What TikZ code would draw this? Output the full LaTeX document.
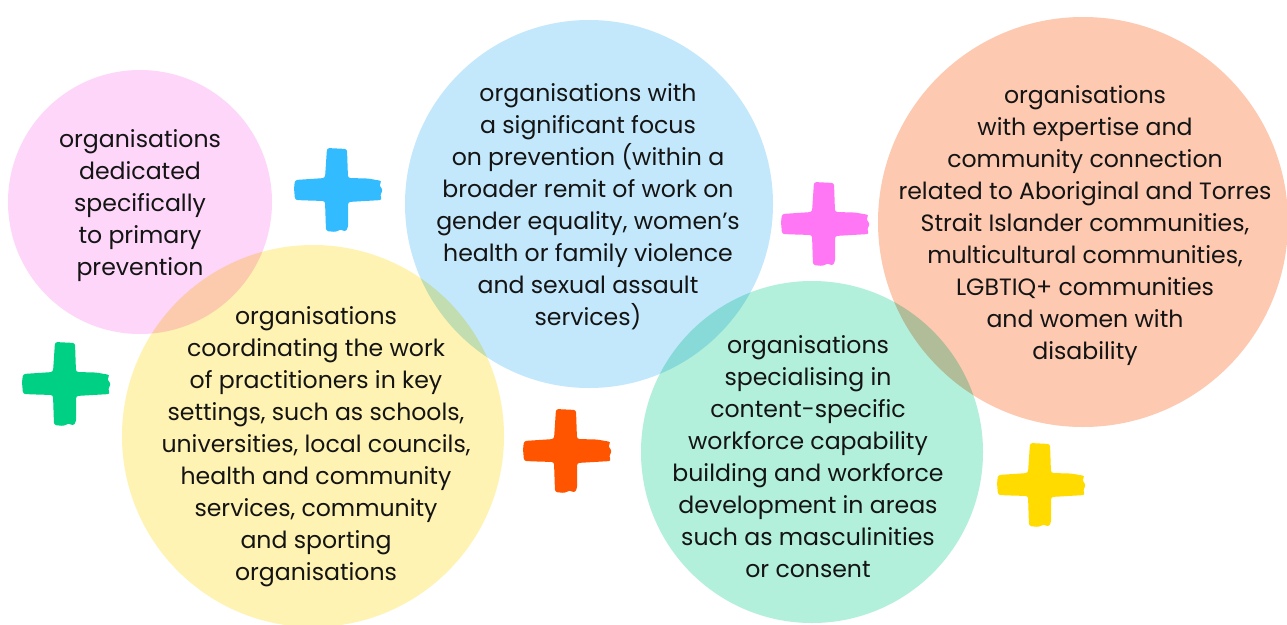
\documentclass[tikz,border=0pt]{standalone}
\usepackage{fontspec}
\setmainfont{Poppins}
\definecolor{cpink}{HTML}{FDD6F9}
\definecolor{cyellow}{HTML}{FEF3B2}
\definecolor{cblue}{HTML}{C3E8FC}
\definecolor{cgreen}{HTML}{B2F0DB}
\definecolor{cpeach}{HTML}{FDC9B1}
\definecolor{pblue}{HTML}{33BBFF}
\definecolor{pgreen}{HTML}{00D084}
\definecolor{porange}{HTML}{FF5500}
\definecolor{pmagenta}{HTML}{FF77F5}
\definecolor{pyellow}{HTML}{FFDB00}
\definecolor{txt}{HTML}{141414}
\tikzset{
  bubble/.style={circle, inner sep=0pt, draw=none, fill=#1, blend mode=multiply},
  label/.style={align=center, text=txt, inner sep=0pt, font=\fontsize{23.6}{32}\selectfont},
  pics/plusmark/.style={code={
    \fill[#1, rounded corners=2.5pt]
      (-11,-42) -- (9,-41) -- (10,-12) -- (30,-11.5) -- (44,-9) -- (41,-5) -- (45,0) -- (42,5) -- (44,10)
      -- (10,12) -- (10,38) -- (7,42) -- (3,39) -- (-2,42) -- (-12,41) -- (-13,11) -- (-30,10.5) -- (-43,10)
      -- (-44,-2) -- (-43,-10) -- (-13,-12) -- cycle;
  }}
}
\begin{document}
\begin{tikzpicture}[x=1pt,y=-1pt]
\useasboundingbox (0,0) rectangle (1287,624);
\fill[white] (0,0) rectangle (1287,624);
% circles
\node[bubble=cpink,  minimum size=264pt] (pinkc)   at (140,202) {};
\node[bubble=cyellow,minimum size=382pt] (yellowc) at (313,436) {};
\node[bubble=cblue,  minimum size=368pt] (bluec)   at (589,204) {};
\node[bubble=cgreen, minimum size=342pt] (greenc)  at (812,452) {};
\node[bubble=cpeach, minimum size=410pt] (peachc)  at (1083,222) {};
% plus signs
\pic at (338,190) {plusmark=pblue};
\pic at (66,384) {plusmark=pgreen};
\pic at (567,451) {plusmark=porange};
\pic at (825,224) {plusmark=pmagenta};
\pic at (1041,485) {plusmark=pyellow};
% texts
\node[label] (pinkt) at (140,206) {organisations\\dedicated\\specifically\\to primary\\prevention};
\node[label] (yellowt) at (316,447) {organisations\\coordinating the work\\of practitioners in key\\settings, such as schools,\\universities, local councils,\\health and community\\services, community\\and sporting\\organisations};
\node[label] (bluet) at (588,207) {organisations with\\a significant focus\\on prevention (within a\\broader remit of work on\\gender equality, women’s\\health or family violence\\and sexual assault\\services)};
\node[label] (greent) at (808,457) {organisations\\specialising in\\content-specific\\workforce capability\\building and workforce\\development in areas\\such as masculinities\\or consent};
\node[label] (peacht) at (1085,226) {organisations\\with expertise and\\community connection\\related to Aboriginal and Torres\\Strait Islander communities,\\multicultural communities,\\LGBTIQ+ communities\\and women with\\disability};
\end{tikzpicture}
\end{document}
